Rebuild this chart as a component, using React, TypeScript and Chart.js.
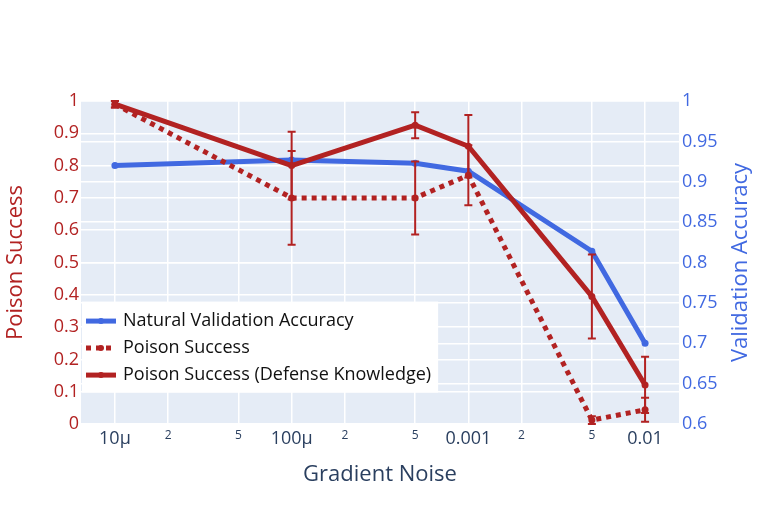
import { useEffect, useRef } from 'react';
import { Chart, registerables } from 'chart.js';
Chart.register(...registerables);

const FONT = '"Open Sans", sans-serif';
const RED = '#b22222';
const BLUE = '#4169e1';
const INK = '#2a3f5f';

// gradient noise levels (x) and the three series
const noiseLevels = [1e-5, 1e-4, 5e-4, 1e-3, 5e-3, 1e-2];
const validationAccuracy = [0.92, 0.927, 0.923, 0.913, 0.814, 0.7];
const poisonSuccess = [0.99, 0.7, 0.7, 0.77, 0.012, 0.044];
const poisonSuccessErr = [0.01, 0.145, 0.113, 0.093, 0.012, 0.037];
const defenseSuccess = [0.99, 0.8, 0.925, 0.86, 0.395, 0.121];
const defenseSuccessErr = [0.01, 0.105, 0.04, 0.097, 0.13, 0.087];

const seriesNames = ['Natural Validation Accuracy', 'Poison Success', 'Poison Success (Defense Knowledge)'];

const xTickValues = [1e-5, 2e-5, 5e-5, 1e-4, 2e-4, 5e-4, 1e-3, 2e-3, 5e-3, 1e-2];
const xTickLabels = ['10µ', '2', '5', '100µ', '2', '5', '0.001', '2', '5', '0.01'];

const toPoints = (ys: number[]) => noiseLevels.map((x, i) => ({ x, y: ys[i] }));

const background = {
  id: 'background',
  beforeDraw(chart: any) {
    const { ctx, chartArea: a, width, height } = chart;
    ctx.save();
    ctx.fillStyle = '#fff';
    ctx.fillRect(0, 0, width, height);
    ctx.fillStyle = '#e5ecf6';
    ctx.fillRect(a.left, a.top, a.right - a.left, a.bottom - a.top);
    ctx.restore();
  },
};

// vertical error bars, drawn right after their own line
const errorBars = {
  id: 'errorBars',
  afterDatasetDraw(chart: any, args: any) {
    const ds = chart.data.datasets[args.index];
    if (!ds.errors) return;
    const meta = args.meta;
    const yScale = chart.scales[meta.yAxisID];
    const ctx = chart.ctx;
    ctx.save();
    ctx.strokeStyle = ds.borderColor;
    ctx.lineWidth = 2;
    ctx.setLineDash([]);
    meta.data.forEach((pt: any, i: number) => {
      const v = ds.data[i].y;
      const e = ds.errors[i];
      const y1 = yScale.getPixelForValue(v + e);
      const y2 = yScale.getPixelForValue(v - e);
      ctx.beginPath();
      ctx.moveTo(pt.x, y1);
      ctx.lineTo(pt.x, y2);
      ctx.moveTo(pt.x - 4, y1);
      ctx.lineTo(pt.x + 4, y1);
      ctx.moveTo(pt.x - 4, y2);
      ctx.lineTo(pt.x + 4, y2);
      ctx.stroke();
    });
    ctx.restore();
  },
};

// right axis title reads bottom-to-top, like the left one
const rightTitle = {
  id: 'rightTitle',
  afterDraw(chart: any) {
    const { ctx, chartArea: a } = chart;
    ctx.save();
    ctx.translate(741, (a.top + a.bottom) / 2);
    ctx.rotate(-Math.PI / 2);
    ctx.font = '22px ' + FONT;
    ctx.fillStyle = BLUE;
    ctx.textAlign = 'center';
    ctx.textBaseline = 'middle';
    ctx.fillText('Validation Accuracy', 0, 0);
    ctx.restore();
  },
};

const insideLegend = {
  id: 'insideLegend',
  afterDraw(chart: any) {
    const { ctx, chartArea: a } = chart;
    const h = a.bottom - a.top;
    const left = a.left + 1;
    const top = a.bottom - 0.379 * h;
    ctx.save();
    ctx.font = '18px ' + FONT;
    const textW = Math.max(...seriesNames.map((n) => ctx.measureText(n).width));
    ctx.fillStyle = '#fff';
    ctx.fillRect(left, top, 41 + textW + 7, 91);
    const styles = [
      { color: BLUE, dash: [] as number[] },
      { color: RED, dash: [5, 5] },
      { color: RED, dash: [] as number[] },
    ];
    seriesNames.forEach((name, i) => {
      const y = top + 19.5 + 27 * i;
      ctx.strokeStyle = styles[i].color;
      ctx.lineWidth = 5;
      ctx.setLineDash(styles[i].dash);
      ctx.beginPath();
      ctx.moveTo(left + 4, y);
      ctx.lineTo(left + 34, y);
      ctx.stroke();
      ctx.setLineDash([]);
      ctx.fillStyle = styles[i].color;
      ctx.beginPath();
      ctx.arc(left + 19, y, 3, 0, Math.PI * 2);
      ctx.fill();
      ctx.fillStyle = '#111';
      ctx.textBaseline = 'middle';
      ctx.fillText(name, left + 41, y);
    });
    ctx.restore();
  },
};

const grid = { color: '#ffffff', lineWidth: 1.5, drawTicks: false };

const App = () => {
  const canvas = useRef<HTMLCanvasElement>(null);

  useEffect(() => {
    const newChart = new Chart(canvas.current as HTMLCanvasElement, {
      type: 'line',
      data: {
        datasets: [
          {
            label: seriesNames[0],
            data: toPoints(validationAccuracy),
            yAxisID: 'y2',
            borderColor: BLUE,
            backgroundColor: BLUE,
            borderWidth: 5,
            pointRadius: 3.5,
            pointBorderWidth: 0,
            order: 3,
          },
          {
            label: seriesNames[1],
            data: toPoints(poisonSuccess),
            errors: poisonSuccessErr,
            yAxisID: 'y',
            borderColor: RED,
            backgroundColor: RED,
            borderWidth: 5,
            borderDash: [5, 5],
            pointRadius: 3.5,
            pointBorderWidth: 0,
            order: 2,
          },
          {
            label: seriesNames[2],
            data: toPoints(defenseSuccess),
            errors: defenseSuccessErr,
            yAxisID: 'y',
            borderColor: RED,
            backgroundColor: RED,
            borderWidth: 5,
            pointRadius: 3.5,
            pointBorderWidth: 0,
            order: 1,
          },
        ] as any,
      },
      options: {
        animation: false,
        responsive: false,
        layout: { padding: { top: 101, left: 0, right: 0, bottom: 0 } },
        plugins: { legend: { display: false }, tooltip: { enabled: false } },
        scales: {
          x: {
            type: 'logarithmic',
            min: 10 ** -5.192,
            max: 10 ** -1.808,
            afterBuildTicks: (s: any) => {
              s.ticks = xTickValues.map((v) => ({ value: v }));
            },
            afterFit: (s: any) => {
              s.height = 83;
            },
            grid,
            border: { display: false },
            ticks: {
              autoSkip: false,
              maxRotation: 0,
              padding: 4,
              color: INK,
              font: (c: any) => ({ family: FONT, size: c.index % 3 === 0 ? 18 : 12 }),
              callback: (_v: any, i: number) => xTickLabels[i],
            },
            title: {
              display: true,
              text: 'Gradient Noise',
              color: INK,
              font: { family: FONT, size: 22 },
              padding: { top: 0, bottom: 19 },
            },
          },
          y: {
            position: 'left',
            min: 0,
            max: 1,
            afterFit: (s: any) => {
              s.width = 81;
            },
            grid,
            border: { display: false },
            ticks: {
              stepSize: 0.1,
              padding: 2,
              color: RED,
              font: { family: FONT, size: 18 },
              callback: (v: any) => String(Math.round(v * 100) / 100),
            },
            title: {
              display: true,
              text: 'Poison Success',
              color: RED,
              font: { family: FONT, size: 22 },
              padding: { top: 3, bottom: 0 },
            },
          },
          y2: {
            position: 'right',
            min: 0.6,
            max: 1,
            afterFit: (s: any) => {
              s.width = 82;
            },
            grid,
            border: { display: false },
            ticks: {
              stepSize: 0.05,
              padding: 3,
              color: BLUE,
              font: { family: FONT, size: 18 },
              callback: (v: any) => String(Math.round(v * 100) / 100),
            },
          },
        },
      } as any,
      plugins: [background, errorBars, rightTitle, insideLegend],
    });
    return () => newChart.destroy();
  }, []);

  return (
    <div style={{ position: 'absolute', left: 0, top: 0, width: 761, height: 507, background: '#fff' }}>
      <canvas ref={canvas} width={761} height={507}></canvas>
    </div>
  );
};

export default App;
